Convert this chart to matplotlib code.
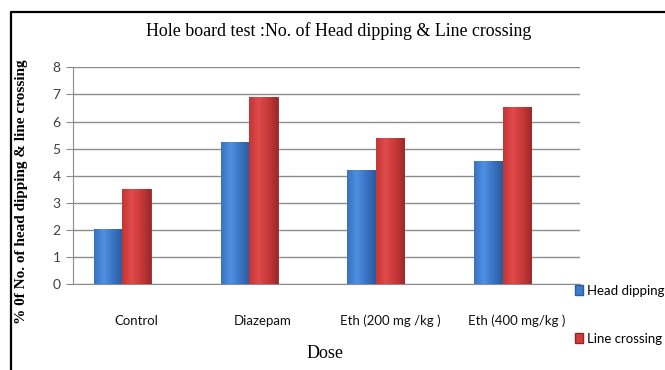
import matplotlib
matplotlib.use("Agg")
import matplotlib.pyplot as plt
from matplotlib.lines import Line2D
from matplotlib.patches import Patch
from matplotlib.colors import LinearSegmentedColormap
import numpy as np

categories = ["Control", "Diazepam", "Eth (200 mg /kg )", "Eth (400 mg/kg )"]
head_dipping = [2.05, 5.23, 4.22, 4.54]
line_crossing = [3.53, 6.91, 5.38, 6.53]
series_names = ["Head dipping", "Line crossing"]
yticks = [0, 1, 2, 3, 4, 5, 6, 7, 8]

W, H = 665, 370
fig = plt.figure(figsize=(W / 100, H / 100), dpi=100)
ax = fig.add_axes([73 / W, 1 - 284.3 / H, (580 - 73) / W, (284.3 - 67.3) / H])

SANS = ["Lato", "DejaVu Sans"]
x = np.arange(len(categories))
bw = 0.225
shift = -0.11  # 3D depth offset of the front faces
blue, red = "#3d7dd0", "#d63c3c"
cm_blue = LinearSegmentedColormap.from_list("b", ["#3a72c0", "#4f90e2", "#3a74c4", "#2c5a9a"])
cm_red = LinearSegmentedColormap.from_list("r", ["#c43636", "#e04a4a", "#c83838", "#9c2a2a"])
b1 = ax.bar(x + shift - bw / 2, head_dipping, bw, color=blue, edgecolor="#2a5c9e", linewidth=0.6, zorder=3)
b2 = ax.bar(x + shift + bw / 2, line_crossing, bw, color=red, edgecolor="#8e2828", linewidth=0.6, zorder=3)
grad = np.linspace(0, 1, 64).reshape(1, -1)
for bars, cm in ((b1, cm_blue), (b2, cm_red)):
    for p in bars:
        x0, y0 = p.get_x(), p.get_y()
        w, h = p.get_width(), p.get_height()
        im = ax.imshow(grad, cmap=cm, aspect="auto", extent=(x0, x0 + w, y0, y0 + h), zorder=3.5,
                       interpolation="bicubic")
        im.set_clip_path(p)

ax.set_ylim(0, 8)
ax.set_xlim(-0.5, 3.5)
ax.set_yticks(yticks)
ax.yaxis.grid(True, color="#8c8c8c", linewidth=1.0, zorder=0)
ax.set_axisbelow(True)
for s in ["top", "right"]:
    ax.spines[s].set_visible(False)
ax.spines["left"].set_color("#8c8c8c")
ax.spines["bottom"].set_color("#8c8c8c")
ax.tick_params(axis="y", length=5, color="#8c8c8c", labelsize=10, labelcolor="#404040", pad=4)
ax.tick_params(axis="x", length=0, labelsize=9.5, labelcolor="#111111", pad=22)

ax.set_xticks(x)
ax.set_xticklabels(categories, family=SANS)
for t in ax.get_yticklabels():
    t.set_family(SANS)

fig.text(339 / W, 1 - 31 / H, "Hole board test :No. of Head dipping & Line crossing",
         ha="center", va="center", family="Liberation Serif", fontsize=12.9)
fig.text(325 / W, 1 - 353 / H, "Dose", ha="center", va="center",
         family="Liberation Serif", fontsize=13)
fig.text(22 / W, 1 - 192 / H, "% 0f No. of head dipping & line crossing", rotation=90,
         ha="center", va="center", family="Liberation Serif", fontsize=11, fontweight="bold")

handles = [Patch(facecolor=blue, edgecolor="#2a5c9e"), Patch(facecolor=red, edgecolor="#8e2828")]
fig.legend(handles, series_names, loc="upper left", bbox_to_anchor=(575 / W, 1 - 285 / H),
           frameon=False, handlelength=0.6, handleheight=0.8, handletextpad=0.3,
           labelspacing=2.7, borderaxespad=0, borderpad=0,
           prop={"family": SANS, "size": 9.5})

fig.add_artist(Line2D([11 / W, 11 / W, 1.01], [-0.01, 1 - 12 / H, 1 - 12 / H],
                      transform=fig.transFigure, color="black", linewidth=1.6))

fig.savefig("out.png", dpi=100)
